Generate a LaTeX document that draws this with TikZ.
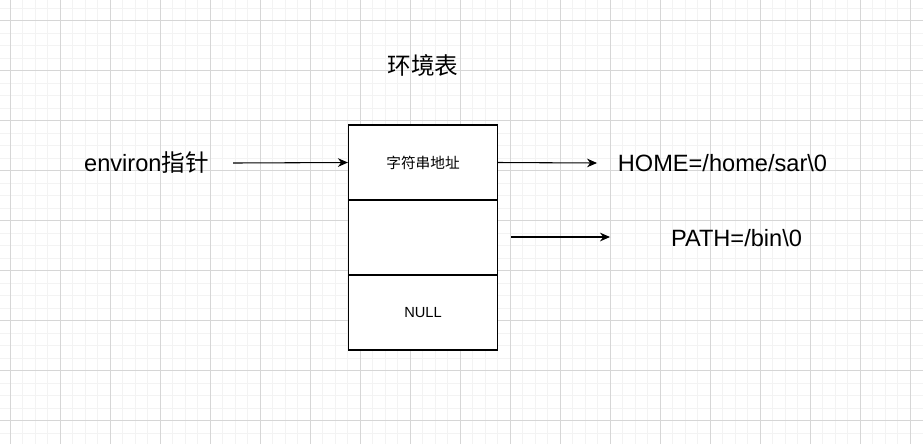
\documentclass[tikz,border=0pt]{standalone}
\usepackage{fontspec}
\setmainfont{Liberation Sans}
\newfontfamily\cjk{Noto Sans CJK SC}
\usetikzlibrary{arrows.meta,positioning}
\definecolor{gridmajor}{RGB}{214,214,214}
\definecolor{gridminor}{RGB}{243,243,243}

\begin{document}
\begin{tikzpicture}[x=0.75pt,y=-0.75pt,
  cell/.style={draw,line width=0.9pt,minimum width=111.75pt,minimum height=56.25pt,
    inner sep=0pt,font=\fontsize{11}{13}\selectfont},
  bigtext/.style={inner sep=0pt,font=\fontsize{17.7}{20}\selectfont},
  ptr/.style={-{Stealth[length=7.5pt,width=6.5pt]},line width=0.8pt}]
  \useasboundingbox (0,0) rectangle (923,444);
  \fill[white] (0,0) rectangle (923,444);

  %draw background grid
  \foreach \x in {10,22.5,...,922} {%
    \draw[gridminor,line width=0.75pt] (\x,0) -- (\x,444);
  }
  \foreach \y in {8,20.5,...,444} {%
    \draw[gridminor,line width=0.75pt] (0,\y) -- (923,\y);
  }
  \foreach \x in {10,60,...,910} {%
    \draw[gridmajor,line width=0.75pt] (\x,0) -- (\x,444);
  }
  \foreach \y in {20.5,70.5,...,420.5} {%
    \draw[gridmajor,line width=0.75pt] (0,\y) -- (923,\y);
  }

  %draw the table
  \node[bigtext] (title) at (423,65) {\cjk 环境表};
  \node[cell,fill=white] (addr) at (423,162.5) {\cjk 字符串地址};
  \node[cell,fill=white] (empty) at (423,237.5) {};
  \node[cell,fill=white] (null) at (423,312.5) {NULL};

  %draw labels
  \node[bigtext] (environ) at (146.5,163) {environ{\cjk 指针}};
  \node[bigtext] (home) at (722.5,163) {HOME=/home/sar\textbackslash 0};
  \node[bigtext] (path) at (736.5,238) {PATH=/bin\textbackslash 0};

  %draw pointers
  \coordinate (envtail) at (233,163);
  \coordinate (hometip) at (597,163);
  \coordinate (pathtail) at (511,237);
  \coordinate (pathtip) at (610,237);
  \draw[ptr] (envtail) -- (addr.west);
  \draw[ptr] (addr.east) -- (hometip);
  \draw[ptr] (pathtail) -- (pathtip);
\end{tikzpicture}
\end{document}
